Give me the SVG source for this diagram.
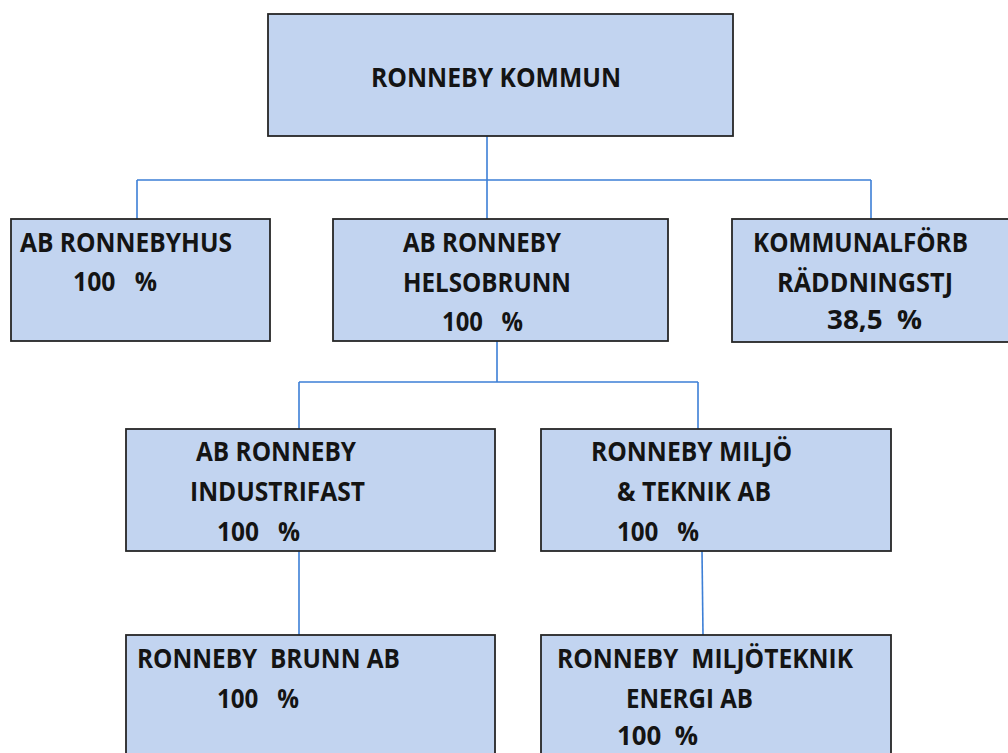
<svg xmlns="http://www.w3.org/2000/svg" width="1008" height="753" viewBox="0 0 1008 753">
  <defs>
    <style>
      .box { fill: #c2d4f0; stroke: #262626; stroke-width: 1.8; }
      .lbl { font-family: "Open Sans", "Liberation Sans", sans-serif; font-weight: bold; font-size: 26px; fill: #141414; white-space: pre; }
      .conn { fill: none; stroke: #3d7fd6; stroke-width: 1.6; }
    </style>
  </defs>
  <rect width="1008" height="753" fill="#ffffff"/>

  <g id="connectors">
    <path class="conn" d="M487,136 V180 M137,180 H871 M137,180 V219 M487,180 V219 M871,180 V219"/>
    <path class="conn" d="M497,341 V382 M299,382 H698 M299,382 V429 M698,382 V429"/>
    <path class="conn" d="M299,551 V635"/>
    <path class="conn" d="M702,551 L703,635"/>
  </g>

  <g id="ronneby-kommun">
    <rect class="box" x="268" y="14" width="465" height="122"/>
    <text class="lbl" x="371" y="87" textLength="250" lengthAdjust="spacingAndGlyphs">RONNEBY KOMMUN</text>
  </g>

  <g id="ab-ronnebyhus">
    <rect class="box" x="11" y="219" width="259" height="122"/>
    <text class="lbl" x="20" y="252" textLength="212" lengthAdjust="spacingAndGlyphs">AB RONNEBYHUS</text>
    <text class="lbl" x="73" y="291" xml:space="preserve" textLength="84" lengthAdjust="spacingAndGlyphs">100   %</text>
  </g>

  <g id="ab-ronneby-helsobrunn">
    <rect class="box" x="333" y="219" width="335" height="122"/>
    <text class="lbl" x="403" y="252" textLength="158" lengthAdjust="spacingAndGlyphs">AB RONNEBY</text>
    <text class="lbl" x="403" y="292" textLength="168" lengthAdjust="spacingAndGlyphs">HELSOBRUNN</text>
    <text class="lbl" x="442" y="331" xml:space="preserve" textLength="81" lengthAdjust="spacingAndGlyphs">100   %</text>
  </g>

  <g id="kommunalforb">
    <rect class="box" x="732" y="219" width="290" height="123"/>
    <text class="lbl" x="753" y="252" textLength="215" lengthAdjust="spacingAndGlyphs">KOMMUNALFÖRB</text>
    <text class="lbl" x="777" y="292" textLength="176" lengthAdjust="spacingAndGlyphs">RÄDDNINGSTJ</text>
    <text class="lbl" x="827" y="329" xml:space="preserve" textLength="95" lengthAdjust="spacingAndGlyphs">38,5  %</text>
  </g>

  <g id="ab-ronneby-industrifast">
    <rect class="box" x="126" y="429" width="369" height="122"/>
    <text class="lbl" x="196" y="461" textLength="160" lengthAdjust="spacingAndGlyphs">AB RONNEBY</text>
    <text class="lbl" x="190" y="501" textLength="175" lengthAdjust="spacingAndGlyphs">INDUSTRIFAST</text>
    <text class="lbl" x="217" y="541" xml:space="preserve" textLength="83" lengthAdjust="spacingAndGlyphs">100   %</text>
  </g>

  <g id="ronneby-miljo-teknik">
    <rect class="box" x="541" y="429" width="350" height="122"/>
    <text class="lbl" x="591" y="461" textLength="201" lengthAdjust="spacingAndGlyphs">RONNEBY MILJÖ</text>
    <text class="lbl" x="617" y="501" textLength="154" lengthAdjust="spacingAndGlyphs">&amp; TEKNIK AB</text>
    <text class="lbl" x="617" y="541" xml:space="preserve" textLength="82" lengthAdjust="spacingAndGlyphs">100   %</text>
  </g>

  <g id="ronneby-brunn-ab">
    <rect class="box" x="126" y="635" width="369" height="130"/>
    <text class="lbl" x="137" y="668" xml:space="preserve" textLength="263" lengthAdjust="spacingAndGlyphs">RONNEBY  BRUNN AB</text>
    <text class="lbl" x="217" y="708" xml:space="preserve" textLength="82" lengthAdjust="spacingAndGlyphs">100   %</text>
  </g>

  <g id="ronneby-miljoteknik-energi">
    <rect class="box" x="541" y="635" width="350" height="130"/>
    <text class="lbl" x="557" y="668" xml:space="preserve" textLength="296" lengthAdjust="spacingAndGlyphs">RONNEBY  MILJÖTEKNIK</text>
    <text class="lbl" x="626" y="708" textLength="127" lengthAdjust="spacingAndGlyphs">ENERGI AB</text>
    <text class="lbl" x="617" y="745" xml:space="preserve" textLength="81" lengthAdjust="spacingAndGlyphs">100  %</text>
  </g>
</svg>
